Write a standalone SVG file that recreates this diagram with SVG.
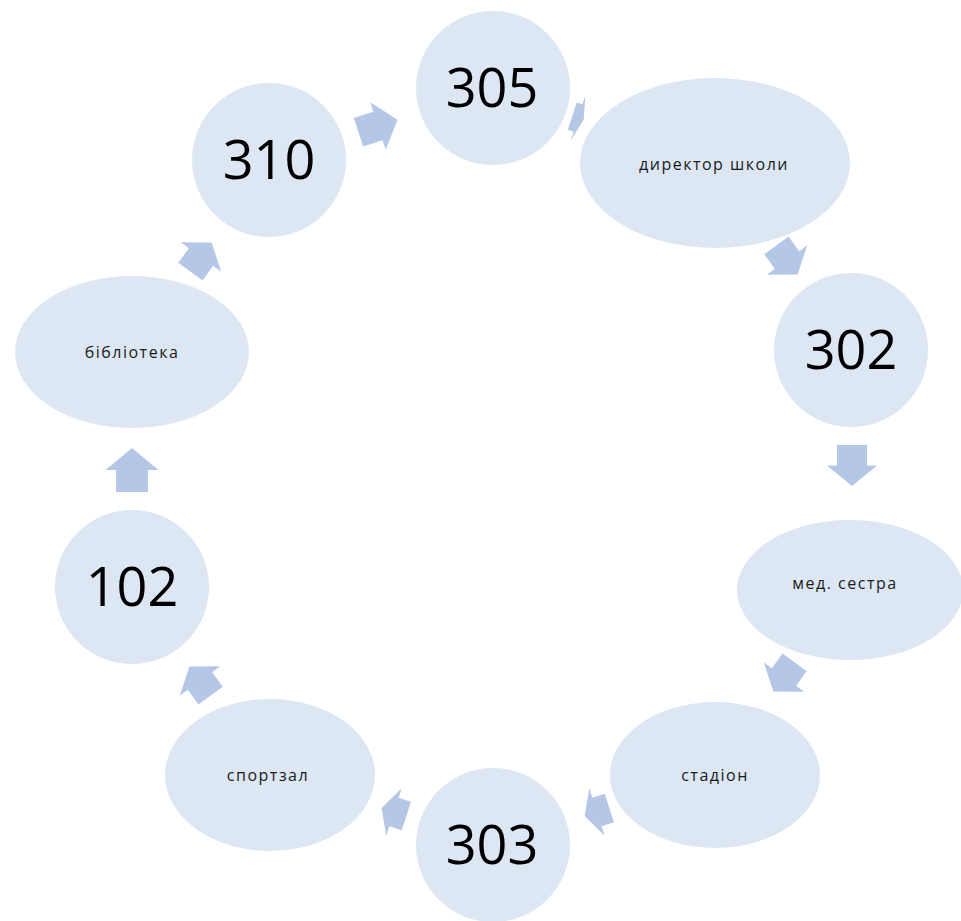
<svg xmlns="http://www.w3.org/2000/svg" width="961" height="921" viewBox="0 0 961 921">
<style>
.node{fill:#DDE7F4}
.arr{fill:#B4C7E7}
.num{font-family:"Open Sans","Liberation Sans",sans-serif;font-size:54px;fill:#000;text-anchor:middle}
.lbl{font-family:"Open Sans","Liberation Sans",sans-serif;font-size:16px;letter-spacing:1.5px;fill:#1a1a1a;text-anchor:middle}
</style>
<rect width="961" height="921" fill="#fff"/>
<g id="n305"><circle class="node" cx="493" cy="88" r="77"/><text class="num" x="492" y="107">305</text></g>
<g id="ndirector"><ellipse class="node" cx="715" cy="163" rx="135" ry="85"/><text class="lbl" x="714" y="170">директор школи</text></g>
<g id="n302"><circle class="node" cx="851" cy="350" r="77"/><text class="num" x="851" y="369">302</text></g>
<g id="nmed"><ellipse class="node" cx="850" cy="590" rx="113" ry="70"/><text class="lbl" x="845" y="589">мед. сестра</text></g>
<g id="nstadion"><ellipse class="node" cx="715" cy="775" rx="105" ry="73"/><text class="lbl" x="715" y="781">стадіон</text></g>
<g id="n303"><circle class="node" cx="493" cy="845" r="77"/><text class="num" x="492" y="864">303</text></g>
<g id="nsport"><ellipse class="node" cx="270" cy="775" rx="105" ry="76"/><text class="lbl" x="268" y="781">спортзал</text></g>
<g id="n102"><circle class="node" cx="132" cy="587" r="77"/><text class="num" x="132" y="606">102</text></g>
<g id="nlib"><ellipse class="node" cx="132" cy="352" rx="117" ry="76"/><text class="lbl" x="132" y="358">бібліотека</text></g>
<g id="n310"><circle class="node" cx="269" cy="160" r="77"/><text class="num" x="269" y="179">310</text></g>
<g id="connectors">
<path class="arr" transform="translate(378,126) rotate(-18)" d="M-20.5,-15H0V-25L20.5,0L0,25V15H-20.5Z"/>
<path class="arr" transform="translate(578,118) rotate(18)" d="M-6,-14.4H0V-24L6,0L0,24V14.4H-6Z"/>
<path class="arr" transform="translate(787,260) rotate(54)" d="M-18,-15H0V-25L18,0L0,25V15H-18Z"/>
<path class="arr" transform="translate(852,465.5) rotate(90)" d="M-20.5,-15H0V-25L20.5,0L0,25V15H-20.5Z"/>
<path class="arr" transform="translate(784,677) rotate(126)" d="M-18,-15H0V-25L18,0L0,25V15H-18Z"/>
<path class="arr" transform="translate(597,812) rotate(162)" d="M-13,-15H0V-25L13,0L0,25V15H-13Z"/>
<path class="arr" transform="translate(394,812) rotate(198)" d="M-13,-15H0V-25L13,0L0,25V15H-13Z"/>
<path class="arr" transform="translate(200,681) rotate(234)" d="M-18,-15H0V-25L18,0L0,25V15H-18Z"/>
<path class="arr" transform="translate(132,470) rotate(270)" d="M-22,-15.9H0V-26.5L22,0L0,26.5V15.9H-22Z"/>
<path class="arr" transform="translate(201,257) rotate(306)" d="M-18,-15H0V-25L18,0L0,25V15H-18Z"/>
</g>
</svg>
